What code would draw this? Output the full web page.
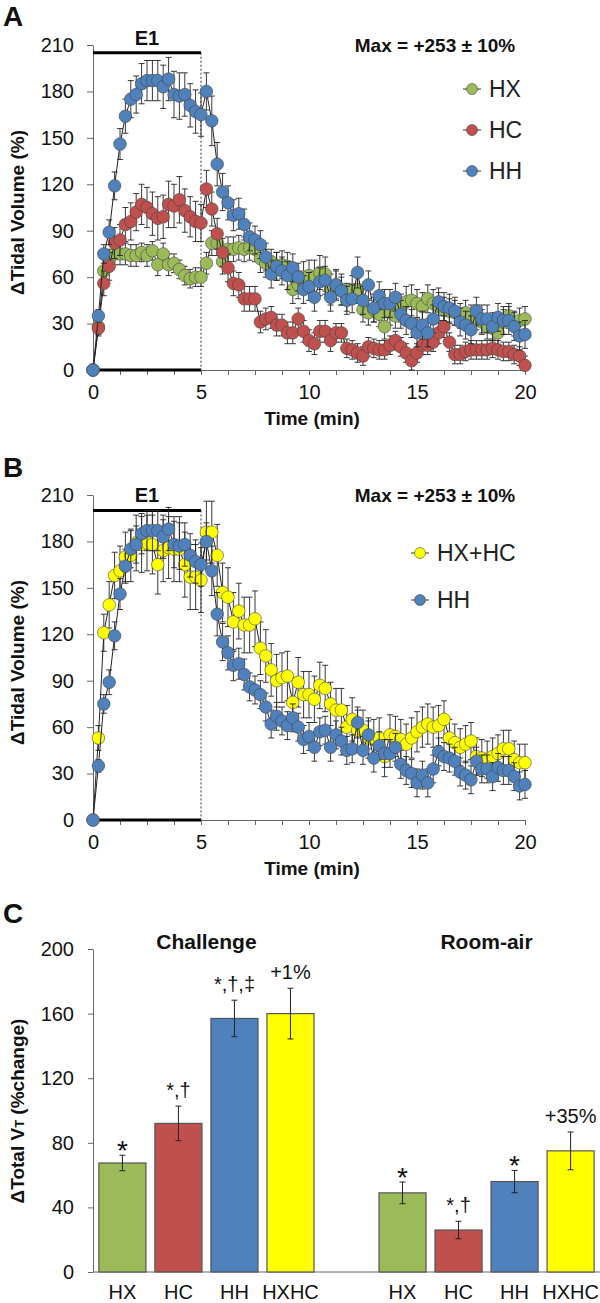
<!DOCTYPE html>
<html>
<head>
<meta charset="utf-8">
<script src="https://cdn.jsdelivr.net/npm/d3@7"></script>
<style>
  body { margin: 0; background: #fff; }
  svg { display: block; font-family: "Liberation Sans", Arial, sans-serif; }
  .axis path, .axis line { stroke: #666; stroke-width: 1; }
  .axis text { font-size: 20px; fill: #111; font-family: "Liberation Sans", Arial, sans-serif; }
  .title { font-weight: bold; fill: #111; }
</style>
</head>
<body>
<svg id="chart"></svg>
<script>
const {
    select,
    scaleLinear,
    scaleBand,
    axisLeft,
    axisBottom,
    line
  } = d3

// ---- time course data (panels A and B), one point every 15 s ----
const times = [0, 0.25, 0.5, 0.75, 1,
  1.25, 1.5, 1.75, 2, 2.25, 2.5, 2.75, 3, 3.25, 3.5, 3.75, 4,
  4.25, 4.5, 4.75, 5, 5.25, 5.5, 5.75, 6, 6.25, 6.5, 6.75, 7,
  7.25, 7.5, 7.75, 8, 8.25, 8.5, 8.75, 9, 9.25, 9.5, 9.75, 10,
  10.25, 10.5, 10.75, 11, 11.25, 11.5, 11.75, 12, 12.25, 12.5, 12.75, 13,
  13.25, 13.5, 13.75, 14, 14.25, 14.5, 14.75, 15, 15.25, 15.5, 15.75, 16,
  16.25, 16.5, 16.75, 17, 17.25, 17.5, 17.75, 18, 18.25, 18.5, 18.75, 19,
  19.25, 19.5, 19.75, 20];

const hxValues = [0, 28, 64, 71, 75,
  75, 75, 74, 74, 76, 74, 77, 68, 75, 68, 69, 65,
  61, 59, 60, 60, 69, 82, 82, 70, 78, 78, 79, 78,
  79, 78, 72, 69, 70, 67, 68, 67, 52, 55, 60, 61,
  60, 63, 62, 52, 55, 52, 47, 52, 52, 39, 37, 39,
  36, 28, 37, 35, 40, 44, 45, 43, 41, 46, 43, 41,
  39, 38, 37, 35, 37, 34, 34, 31, 28, 27, 24, 31,
  35, 30, 32, 33];
const hxErrors = [0, 5, 8, 7, 7,
  7, 7, 7, 7, 6, 7, 6, 7, 7, 7, 6, 6,
  6, 6, 6, 6, 7, 8, 8, 8, 8, 8, 8, 8,
  8, 8, 9, 9, 8, 9, 9, 9, 9, 9, 10, 10,
  11, 11, 11, 10, 10, 10, 9, 9, 9, 8, 8, 8,
  8, 8, 8, 8, 9, 10, 10, 9, 9, 9, 9, 9,
  8, 8, 8, 8, 8, 8, 8, 8, 8, 8, 8, 8,
  8, 8, 8, 8];

const hcValues = [0, 27, 56, 67, 82,
  84, 94, 96, 102, 107, 105, 101, 98, 99, 107, 106, 110,
  103, 99, 96, 95, 117, 104, 88, 76, 66, 56, 55, 46,
  46, 46, 31, 33, 34, 29, 29, 24, 24, 33, 25, 19,
  17, 25, 25, 19, 24, 24, 14, 13, 11, 9, 15, 14,
  13, 13, 16, 19, 15, 11, 6, 11, 16, 16, 18, 24,
  28, 18, 10, 10, 12, 13, 13, 13, 13, 14, 13, 12,
  12, 10, 9, 3];
const hcErrors = [0, 5, 8, 9, 10,
  10, 11, 12, 12, 13, 13, 14, 14, 14, 15, 14, 15,
  14, 13, 13, 12, 12, 11, 10, 9, 9, 8, 8, 8,
  8, 8, 7, 7, 7, 7, 7, 7, 7, 7, 7, 7,
  7, 7, 7, 7, 6, 6, 6, 6, 6, 6, 6, 6,
  6, 6, 6, 6, 6, 6, 6, 6, 6, 6, 6, 7,
  7, 6, 6, 6, 6, 6, 6, 6, 6, 6, 6, 6,
  6, 6, 6, 6];

const hhValues = [0, 35, 75, 89, 119,
  146, 164, 175, 178, 185, 187, 187, 187, 183, 188, 178, 177,
  178, 171, 167, 165, 180, 161, 133, 115, 108, 100, 101, 94,
  86, 84, 81, 73, 62, 67, 64, 61, 66, 60, 52, 54,
  47, 57, 58, 47, 55, 51, 45, 46, 63, 45, 55, 40,
  48, 43, 43, 47, 36, 32, 30, 24, 29, 24, 33, 44,
  41, 40, 38, 31, 29, 26, 38, 33, 33, 28, 34, 32,
  32, 28, 22, 23];
const hhErrors = [0, 4, 6, 8, 9,
  10, 11, 12, 12, 13, 13, 13, 13, 14, 14, 15, 15,
  14, 14, 14, 14, 12, 16, 14, 12, 11, 10, 10, 10,
  9, 9, 9, 9, 9, 9, 9, 9, 9, 9, 9, 9,
  9, 9, 9, 9, 9, 9, 9, 9, 10, 9, 9, 9,
  9, 9, 9, 9, 9, 9, 9, 9, 9, 9, 9, 9,
  9, 9, 9, 9, 9, 9, 9, 9, 9, 9, 9, 9,
  9, 9, 9, 9];

const hxhcValues = [0, 53, 121, 139, 158,
  161, 170, 171, 179, 178, 179, 178, 165, 174, 176, 175, 175,
  165, 157, 157, 155, 186, 186, 171, 147, 144, 128, 135, 126,
  126, 130, 111, 106, 97, 90, 92, 93, 76, 89, 81, 81,
  78, 87, 85, 75, 71, 71, 60, 65, 58, 58, 53, 52,
  53, 41, 55, 54, 52, 49, 53, 57, 60, 62, 60, 61,
  65, 53, 50, 47, 49, 51, 41, 40, 39, 41, 43, 46,
  46, 39, 37, 37];
const hxhcErrors = [0, 8, 12, 15, 15,
  16, 16, 17, 18, 18, 18, 19, 19, 20, 20, 21, 21,
  21, 21, 21, 21, 20, 20, 20, 19, 19, 19, 18, 18,
  18, 18, 17, 17, 17, 17, 16, 16, 16, 16, 15, 15,
  15, 15, 15, 14, 14, 14, 14, 14, 13, 13, 13, 13,
  13, 13, 13, 13, 13, 13, 13, 13, 13, 13, 13, 13,
  12, 12, 12, 12, 12, 12, 12, 12, 12, 12, 12, 12,
  12, 12, 12, 12];

const timeTicksX = [0, 1.25, 2.5, 3.75, 5, 6.25, 7.5, 8.75, 10, 11.25, 12.5,
  13.75, 15, 16.25, 17.5, 18.75, 20];
const timeTicksY = [0, 30, 60, 90, 120, 150, 180, 210];

// ---- total VT bars (panel C) ----
const barLabels = ['HX', 'HC', 'HH', 'HXHC'];
const challengeValues = [67.5, 92, 157, 160];
const challengeErrors = [4.8, 10.7, 11.3, 15.7];
const challengeMarks = ['*', '*,\u2020', '*,\u2020,\u2021', '+1%'];
const roomAirValues = [49, 26, 56, 75];
const roomAirErrors = [6.7, 5.4, 6.9, 11.7];
const roomAirMarks = ['*', '*,\u2020', '*', '+35%'];
const barTicksY = [0, 40, 80, 120, 160, 200];

const colors = { HX: '#9bbb59', HC: '#c0504d', HH: '#4f81bd', HXHC: '#ffff00' };

const width = 600, height = 1303;
const svg = select('svg#chart')
    .attr('width', width)
    .attr('height', height)
    .attr('viewBox', [0, 0, width, height]);

const xTime = scaleLinear().domain([0, 20]).range([93, 525]);

const toPoints = (vals, errs) => times.map((t, i) => ({ t, v: vals[i], e: errs[i] }));

const drawTimePanel = props => {
  const { top, bottom, letter, letterY, e1Level, series, legendX, legendY } = props;
  const y = scaleLinear().domain([0, 210]).range([bottom, top]);
  const g = svg.append('g');

  g.append('text').attr('class', 'title')
    .attr('x', 3).attr('y', letterY)
    .style('font-size', '28px')
    .text(letter);

  g.append('g').attr('class', 'axis')
    .attr('transform', `translate(${xTime(0)},0)`)
    .call(axisLeft(y).tickValues(timeTicksY).tickSize(6).tickPadding(13).tickSizeOuter(0));

  g.append('g').attr('class', 'axis')
    .attr('transform', `translate(0,${y(0)})`)
    .call(axisBottom(xTime).tickValues(timeTicksX)
      .tickFormat(d => d % 5 === 0 ? d : '')
      .tickSize(5).tickPadding(10).tickSizeOuter(0));

  // E1 period: bar at top, thick baseline, dashed end marker
  g.append('line')
    .attr('x1', xTime(0)).attr('x2', xTime(5))
    .attr('y1', y(e1Level)).attr('y2', y(e1Level))
    .attr('stroke', '#000').attr('stroke-width', 3);
  g.append('line')
    .attr('x1', xTime(0)).attr('x2', xTime(5))
    .attr('y1', y(0)).attr('y2', y(0))
    .attr('stroke', '#000').attr('stroke-width', 3);
  g.append('line')
    .attr('x1', xTime(5)).attr('x2', xTime(5))
    .attr('y1', y(e1Level)).attr('y2', y(0))
    .attr('stroke', '#333').attr('stroke-width', 1)
    .attr('stroke-dasharray', '2,2');
  g.append('text').attr('class', 'title')
    .attr('x', xTime(2.5)).attr('y', y(e1Level) - 8)
    .attr('text-anchor', 'middle')
    .style('font-size', '20px')
    .text('E1');

  g.append('text').attr('class', 'title')
    .attr('x', 435).attr('y', top + 7)
    .attr('text-anchor', 'middle')
    .style('font-size', '19px')
    .text('Max = +253 \u00b1 10%');

  // series: error bars, connecting line, markers
  const lineGen = line().x(d => xTime(d.t)).y(d => y(d.v));
  series.forEach(s => {
    const pts = toPoints(s.values, s.errors);
    const sg = g.append('g');
    const eb = sg.selectAll('g.err').data(pts.filter(d => d.e > 0))
      .enter().append('g').attr('class', 'err')
      .attr('stroke', '#222').attr('stroke-width', 0.9);
    eb.append('line')
      .attr('x1', d => xTime(d.t)).attr('x2', d => xTime(d.t))
      .attr('y1', d => y(Math.max(0, d.v - d.e))).attr('y2', d => y(d.v + d.e));
    eb.append('line')
      .attr('x1', d => xTime(d.t) - 3).attr('x2', d => xTime(d.t) + 3)
      .attr('y1', d => y(d.v + d.e)).attr('y2', d => y(d.v + d.e));
    eb.append('line')
      .attr('x1', d => xTime(d.t) - 3).attr('x2', d => xTime(d.t) + 3)
      .attr('y1', d => y(Math.max(0, d.v - d.e))).attr('y2', d => y(Math.max(0, d.v - d.e)));
    sg.append('path')
      .attr('d', lineGen(pts))
      .attr('fill', 'none')
      .attr('stroke', '#222')
      .attr('stroke-width', 1);
    sg.selectAll('circle').data(pts)
      .enter().append('circle')
      .attr('cx', d => xTime(d.t))
      .attr('cy', d => y(d.v))
      .attr('r', 6.3)
      .attr('fill', s.color)
      .attr('stroke', '#444')
      .attr('stroke-width', 0.6);
  });

  // legend
  series.forEach((s, i) => {
    const ly = legendY[i];
    g.append('line')
      .attr('x1', legendX - 9).attr('x2', legendX + 9)
      .attr('y1', ly).attr('y2', ly)
      .attr('stroke', '#333');
    g.append('circle')
      .attr('cx', legendX).attr('cy', ly).attr('r', 5.5)
      .attr('fill', s.color).attr('stroke', '#444').attr('stroke-width', 0.6);
    g.append('text')
      .attr('x', legendX + 17).attr('y', ly)
      .attr('dy', '0.36em')
      .style('font-size', '23px')
      .attr('fill', '#222')
      .text(s.name);
  });

  g.append('text').attr('class', 'title')
    .attr('x', 312).attr('y', bottom + 55)
    .attr('text-anchor', 'middle')
    .style('font-size', '19px')
    .text('Time (min)');

  g.append('text').attr('class', 'title')
    .attr('transform', `translate(24,${(top + bottom) / 2 + 5}) rotate(-90)`)
    .attr('text-anchor', 'middle')
    .style('font-size', '19px')
    .text('\u0394Tidal Volume (%)');
};

drawTimePanel({
  top: 45, bottom: 370, letter: 'A', letterY: 26, e1Level: 205,
  series: [
    { name: 'HX', color: colors.HX, values: hxValues, errors: hxErrors },
    { name: 'HC', color: colors.HC, values: hcValues, errors: hcErrors },
    { name: 'HH', color: colors.HH, values: hhValues, errors: hhErrors }
  ],
  legendX: 472, legendY: [89, 130, 171]
});

// in B the HX+HC series sits under HH
drawTimePanel({
  top: 495, bottom: 820, letter: 'B', letterY: 477, e1Level: 200,
  series: [
    { name: 'HX+HC', color: colors.HXHC, values: hxhcValues, errors: hxhcErrors },
    { name: 'HH', color: colors.HH, values: hhValues, errors: hhErrors }
  ],
  legendX: 420, legendY: [553, 600]
});

// ---- panel C ----
const slots = ['c-HX', 'c-HC', 'c-HH', 'c-HXHC', 'gap', 'r-HX', 'r-HC', 'r-HH', 'r-HXHC'];
const xC = scaleBand().domain(slots).range([93, 600]).paddingInner(0.16).paddingOuter(0.105);
const yC = scaleLinear().domain([0, 200]).range([1272, 949]);

const bars = [
  ...barLabels.map((k, i) => ({ slot: 'c-' + k, key: k, v: challengeValues[i], e: challengeErrors[i], mark: challengeMarks[i] })),
  ...barLabels.map((k, i) => ({ slot: 'r-' + k, key: k, v: roomAirValues[i], e: roomAirErrors[i], mark: roomAirMarks[i] }))
];

const gC = svg.append('g');
gC.append('text').attr('class', 'title')
  .attr('x', 3).attr('y', 923)
  .style('font-size', '28px')
  .text('C');

gC.append('g').attr('class', 'axis')
  .attr('transform', `translate(93,0)`)
  .call(axisLeft(yC).tickValues(barTicksY).tickSize(5).tickPadding(14).tickSizeOuter(0));

gC.append('line')
  .attr('x1', 93).attr('x2', 600)
  .attr('y1', yC(0)).attr('y2', yC(0))
  .attr('stroke', '#666');

gC.selectAll('rect.bar').data(bars)
  .enter().append('rect')
  .attr('class', 'bar')
  .attr('x', d => xC(d.slot))
  .attr('y', d => yC(d.v))
  .attr('width', xC.bandwidth())
  .attr('height', d => yC(0) - yC(d.v))
  .attr('fill', d => colors[d.key])
  .attr('stroke', '#555')
  .attr('stroke-width', 1.2);

const ebC = gC.selectAll('g.err').data(bars)
  .enter().append('g').attr('class', 'err')
  .attr('stroke', '#222').attr('stroke-width', 1);
const cx = d => xC(d.slot) + xC.bandwidth() / 2;
ebC.append('line')
  .attr('x1', cx).attr('x2', cx)
  .attr('y1', d => yC(d.v - d.e)).attr('y2', d => yC(d.v + d.e));
ebC.append('line')
  .attr('x1', d => cx(d) - 3).attr('x2', d => cx(d) + 3)
  .attr('y1', d => yC(d.v + d.e)).attr('y2', d => yC(d.v + d.e));
ebC.append('line')
  .attr('x1', d => cx(d) - 3).attr('x2', d => cx(d) + 3)
  .attr('y1', d => yC(d.v - d.e)).attr('y2', d => yC(d.v - d.e));

gC.selectAll('text.mark').data(bars)
  .enter().append('text')
  .attr('class', 'mark')
  .attr('x', cx)
  .attr('y', d => yC(d.v + d.e) + (d.mark === '*' ? 5 : -9))
  .attr('text-anchor', 'middle')
  .style('font-size', d => d.mark === '*' ? '28px' : '20px')
  .attr('fill', '#111')
  .text(d => d.mark);

gC.selectAll('text.cat').data(bars)
  .enter().append('text')
  .attr('class', 'cat')
  .attr('x', cx)
  .attr('y', 1299)
  .attr('text-anchor', 'middle')
  .style('font-size', '20px')
  .attr('fill', '#111')
  .text(d => d.key);

const groupCenter = (a, b) => (xC(a) + xC(b) + xC.bandwidth()) / 2;
gC.append('text').attr('class', 'title')
  .attr('x', groupCenter('c-HX', 'c-HXHC')).attr('y', 949)
  .attr('text-anchor', 'middle')
  .style('font-size', '21px')
  .text('Challenge');
gC.append('text').attr('class', 'title')
  .attr('x', groupCenter('r-HX', 'r-HXHC')).attr('y', 949)
  .attr('text-anchor', 'middle')
  .style('font-size', '21px')
  .text('Room-air');

const yTitle = gC.append('text').attr('class', 'title')
  .attr('transform', `translate(24,1111) rotate(-90)`)
  .attr('text-anchor', 'middle')
  .style('font-size', '19px');
yTitle.append('tspan').text('\u0394Total V');
yTitle.append('tspan').style('font-size', '13px').text('T');
yTitle.append('tspan').text(' (%change)');
</script>
</body>
</html>
